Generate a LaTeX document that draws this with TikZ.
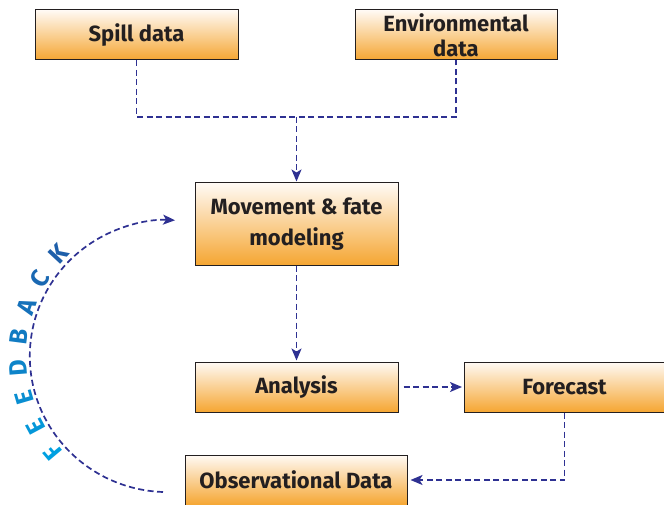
\documentclass[tikz,border=0pt]{standalone}
\usepackage{fontspec}
\setmainfont{Fira Sans}
\usetikzlibrary{arrows.meta,shadings,calc}

\definecolor{boxorange}{RGB}{245,166,50}
\definecolor{boxtext}{RGB}{35,31,32}
\definecolor{linknavy}{RGB}{46,49,146}
\definecolor{fblight}{RGB}{0,160,225}
\definecolor{fbdark}{RGB}{30,95,170}

\newcommand\fbsize{\fontsize{25}{25}\selectfont\bfseries}

\tikzset{
  stagebox/.style={draw=boxtext,line width=1pt,top color=orange!4,bottom color=boxorange,
    text=boxtext,font=\fontsize{22}{25}\selectfont\bfseries,align=center,
    inner sep=0pt},
  link/.style={linknavy,line width=1.7pt,dash pattern=on 6pt off 3.5pt},
  linkarrow/.style={link,-{Stealth[length=12pt,width=10pt,inset=3pt]}},
  fbletter/.style={inner sep=0pt}
}

\begin{document}
\begin{tikzpicture}[x=1pt,y=-1pt]
  \useasboundingbox (0,0) rectangle (664,505);

  \node[stagebox,minimum width=203,minimum height=50] (spill) at (136.5,35) {Spill data};
  \node[stagebox,minimum width=202,minimum height=50] (env) at (456,35) {Environmental\\data};
  \node[stagebox,minimum width=203,minimum height=82,font=\fontsize{22}{31}\selectfont\bfseries]
    (model) at (296.5,224) {Movement \& fate\\modeling};
  \node[stagebox,minimum width=203,minimum height=50] (analysis) at (296.5,387) {Analysis};
  \node[stagebox,minimum width=200,minimum height=50] (forecast) at (564.5,387) {Forecast};
  \node[stagebox,minimum width=222,minimum height=50] (obs) at (296,480) {Observational Data};

  % inputs merge into the model
  \coordinate (merge) at (296.5,117);
  \draw[link] (spill.south) |- (merge) -| (env.south);
  \draw[linkarrow,shorten >=1pt] (merge) -- (model.north);
  \draw[linkarrow,shorten >=1pt] (model.south) -- (analysis.north);
  \draw[linkarrow,shorten <=5pt,shorten >=2pt] (analysis.east) -- (forecast.west);
  \draw[linkarrow,shorten >=3pt] (forecast.south) |- (obs.east);

  % feedback loop
  \coordinate (fbcentre) at (168,356);
  \coordinate (fbstart) at (163,492);
  \draw[linkarrow] (fbstart) arc[start angle=92,end angle=273,x radius=138,y radius=136];
  \foreach \ch [count=\i from 0] in {F,E,E,D,B,A,C,K} {
    \pgfmathsetmacro{\ang}{140+11.86*\i}
    \pgfmathsetmacro{\mixv}{100-100*\i/7}
    \node[fbletter,text=fblight!\mixv!fbdark,rotate=-\ang-90]
      (fb\i) at ($(fbcentre)+(\ang:150)$) {\fbsize\ch};
  }
\end{tikzpicture}
\end{document}
